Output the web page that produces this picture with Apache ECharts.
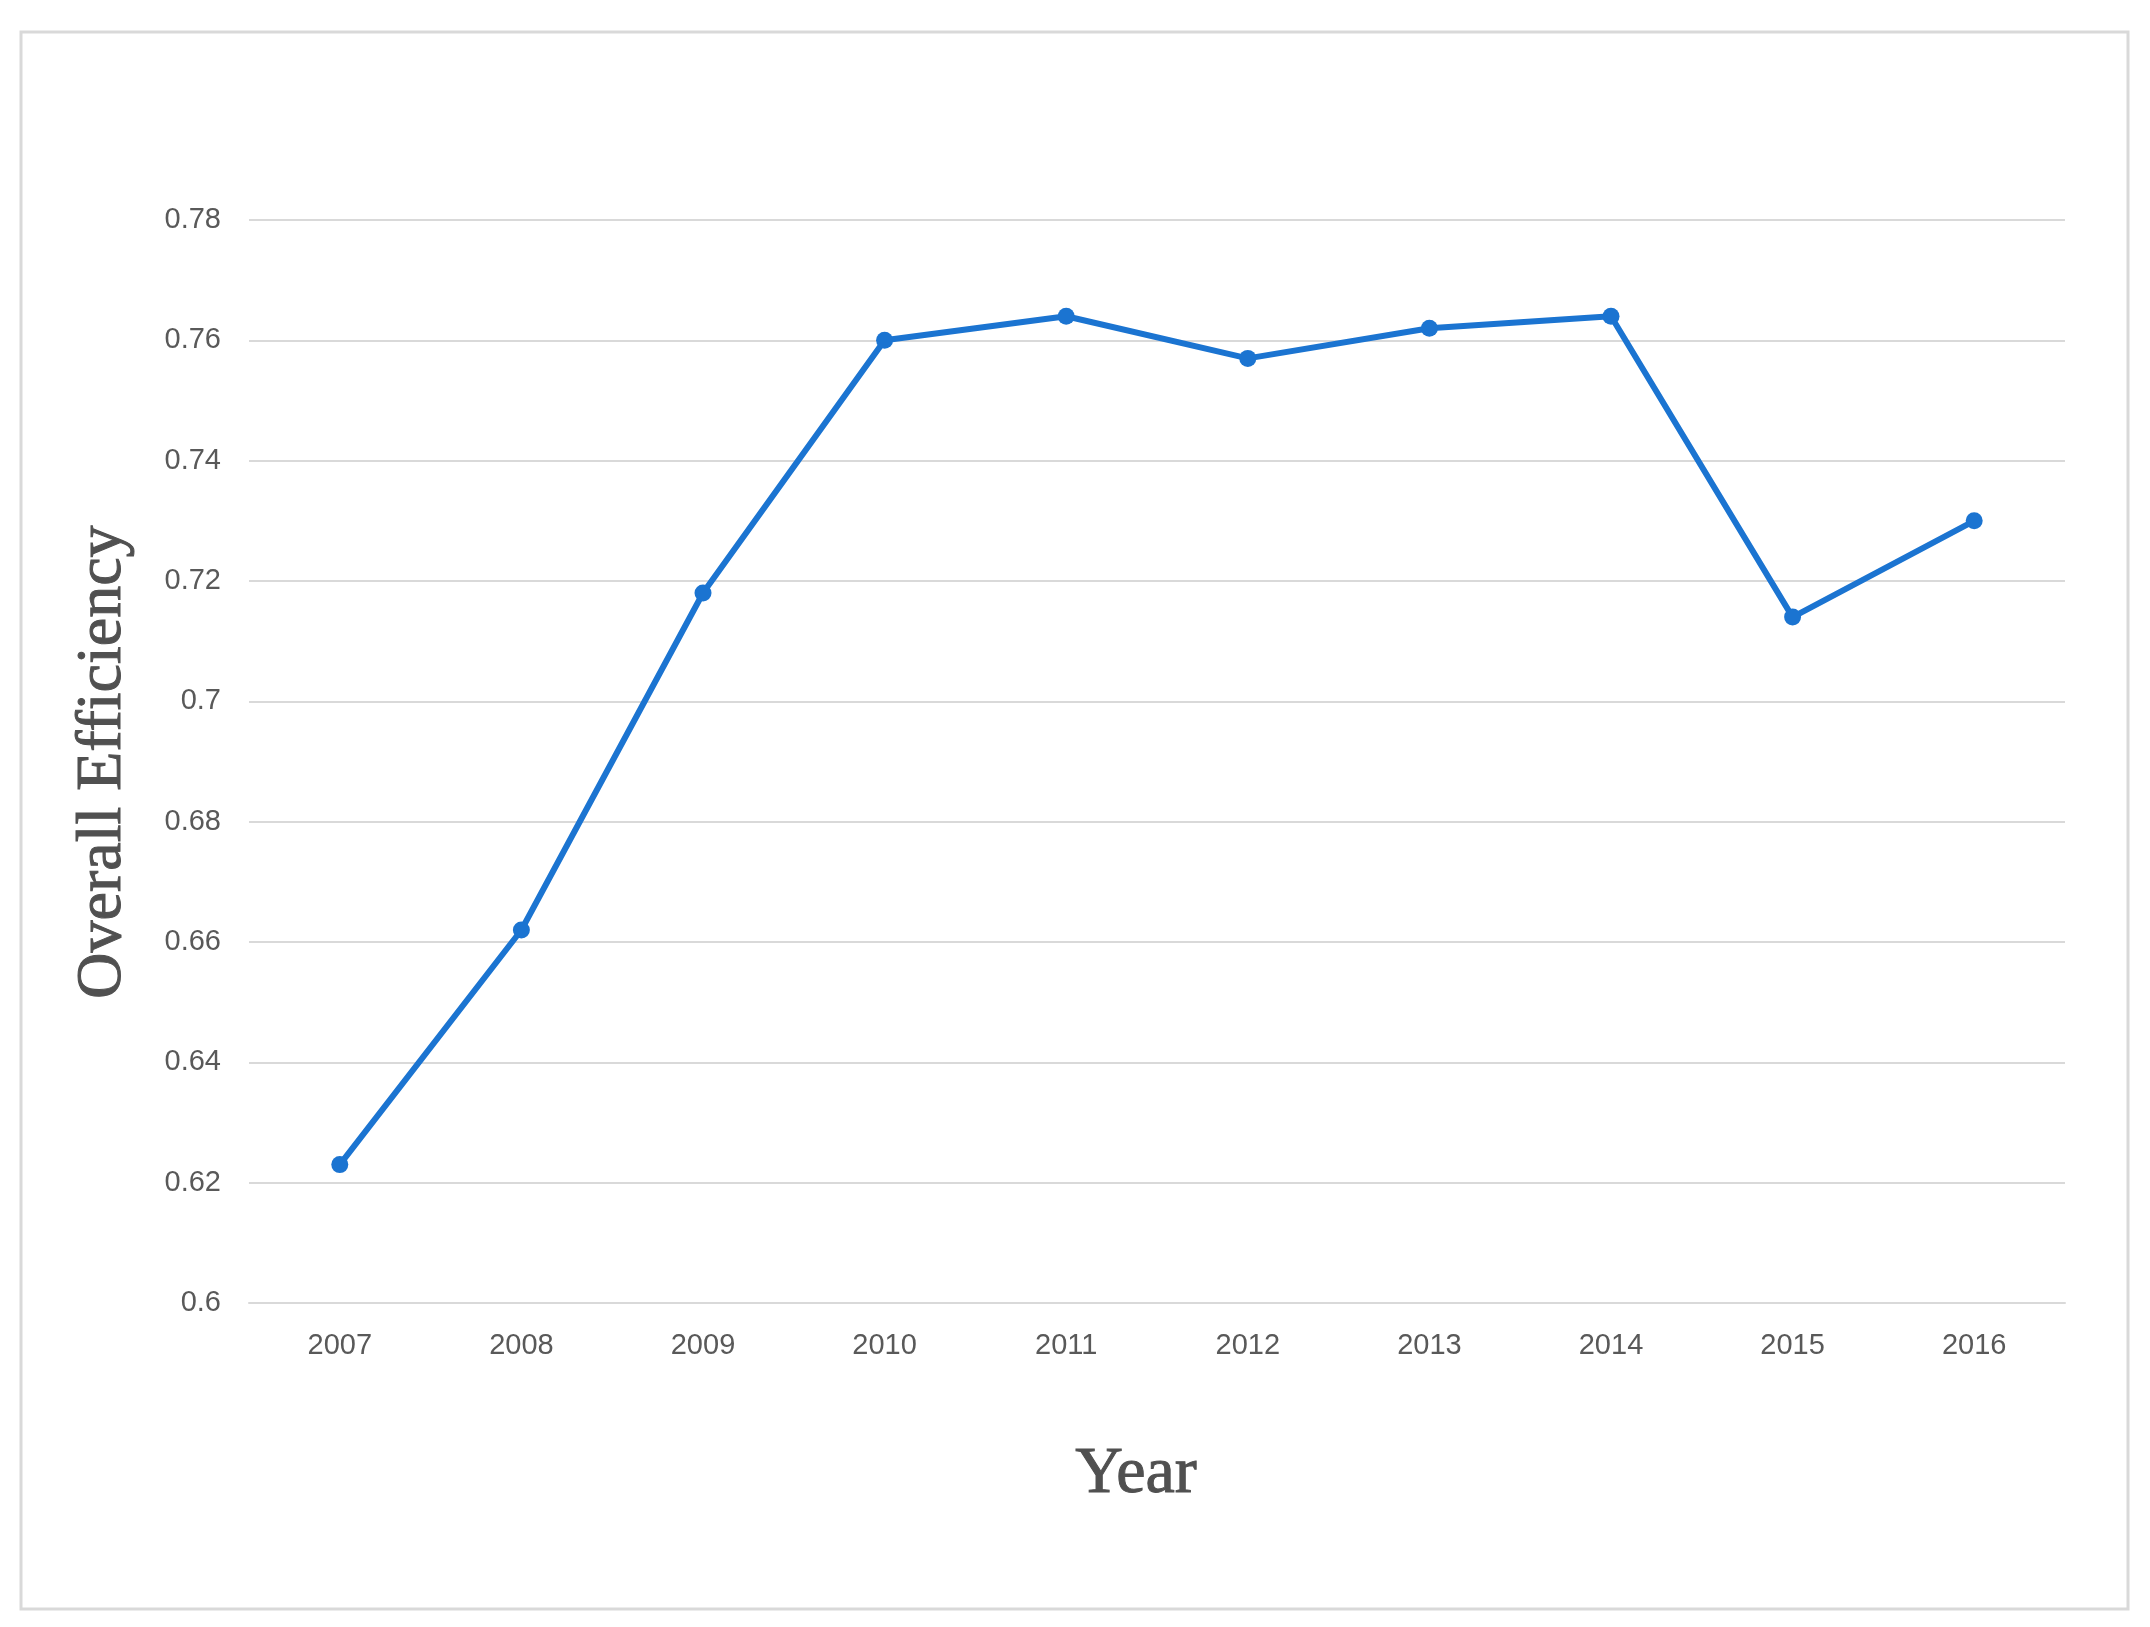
<!DOCTYPE html>
<html>
<head>
<meta charset="utf-8">
<script src="https://cdn.jsdelivr.net/npm/echarts@6/dist/echarts.min.js"></script>
<style>
  html, body { margin: 0; padding: 0; background: #fff; }
  #chart { width: 2150px; height: 1627px; }
</style>
</head>
<body>
<div id="chart"></div>
<script>
// data
const years = ['2007', '2008', '2009', '2010', '2011', '2012', '2013', '2014', '2015', '2016'];
const efficiency = [0.623, 0.662, 0.718, 0.760, 0.764, 0.757, 0.762, 0.764, 0.714, 0.730];
const yTicks = [0.6, 0.62, 0.64, 0.66, 0.68, 0.7, 0.72, 0.74, 0.76, 0.78];

const chart = echarts.init(document.getElementById('chart'));
chart.setOption({
    animation: false,
    grid: { left: 249, right: 85, top: 220, bottom: 324 },
    graphic: [
        {
            type: 'rect',
            shape: { x: 21, y: 32, width: 2107, height: 1577 },
            style: { fill: 'none', stroke: '#d9d9d9', lineWidth: 3 }
        },
        {
            type: 'text',
            x: 1136, y: 1475,
            style: { text: 'Year', font: '66px "Liberation Serif", serif', fill: '#505050', align: 'center', verticalAlign: 'middle', stroke: '#505050', lineWidth: 1 }
        },
        {
            type: 'text',
            x: 103, y: 762, rotation: Math.PI / 2,
            style: { text: 'Overall Efficiency', font: '64px "Liberation Serif", serif', fill: '#505050', align: 'center', verticalAlign: 'middle', stroke: '#505050', lineWidth: 1 }
        }
    ],
    xAxis: {
        type: 'category',
        data: years,
        axisLine: { lineStyle: { color: '#d9d9d9', width: 2 } },
        axisTick: { show: false },
        axisLabel: { color: '#595959', fontSize: 29, margin: 28, fontFamily: 'Liberation Sans' }
    },
    yAxis: {
        type: 'value',
        min: yTicks[0],
        max: yTicks[yTicks.length - 1],
        interval: 0.02,
        axisLine: { show: false },
        axisTick: { show: false },
        splitLine: { lineStyle: { color: '#d9d9d9', width: 2 } },
        axisLabel: {
            color: '#595959', fontSize: 29, margin: 28, fontFamily: 'Liberation Sans',
            formatter: v => String(parseFloat(v.toFixed(2)))
        }
    },
    series: [{
        type: 'line',
        data: efficiency,
        symbol: 'circle',
        symbolSize: 17,
        lineStyle: { color: '#1b74d1', width: 6 },
        itemStyle: { color: '#1b74d1' }
    }]
});
</script>
</body>
</html>
